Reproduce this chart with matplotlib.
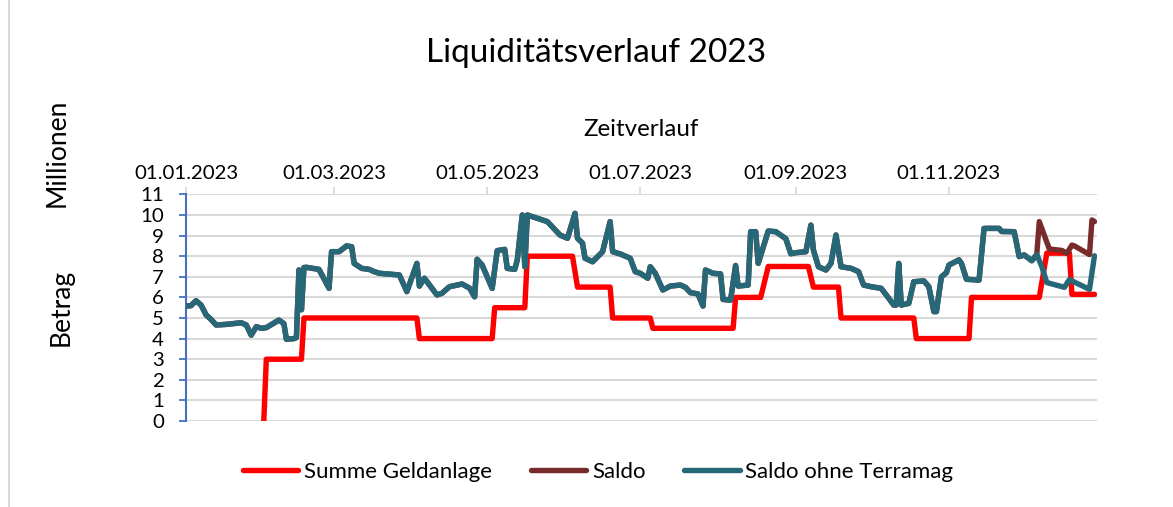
import matplotlib
matplotlib.use("Agg")
import matplotlib.pyplot as plt
import matplotlib.dates as mdates
import pandas as pd
from matplotlib.lines import Line2D

plt.rcParams['font.family'] = ['Lato', 'DejaVu Sans']

START = pd.Timestamp("2023-01-01")

# Summe Geldanlage (days since 01.01.2023, Mio)
geld_days = [31, 32, 46, 47, 92, 93, 122, 123, 135, 136, 154, 156, 169, 170, 185, 186,
             218, 219, 229, 232, 248, 250, 260, 261, 290, 291, 312, 313, 340, 343, 352, 353, 362]
geld_vals = [0, 3, 3, 5, 5, 4, 4, 5.5, 5.5, 8, 8, 6.5, 6.5, 5, 5, 4.5,
             4.5, 6, 6, 7.5, 7.5, 6.5, 6.5, 5, 5, 4, 4, 6, 6, 8.15, 8.15, 6.15, 6.15]

# Saldo ohne Terramag
ohne_days = [0, 2, 4, 6, 8, 10, 12, 16, 22, 24, 26, 28, 30, 32, 37, 39, 40, 43, 44, 45,
             46, 47, 48, 53, 57, 58, 61, 64, 66, 67, 70, 73, 75, 77, 85, 88, 92, 93, 95, 100,
             102, 105, 110, 113, 115, 116, 118, 122, 124, 127, 128, 131, 132, 134, 135, 136, 140, 144, 149, 152,
             155, 156, 158, 159, 162, 166, 169, 170, 173, 177, 179, 181, 184, 185, 187, 190, 193, 197, 199, 201,
             204, 206, 207, 210, 213, 214, 217, 219, 220, 224, 225, 227, 228, 232, 235, 239, 241, 243, 247, 249,
             250, 252, 255, 257, 259, 261, 265, 268, 270, 273, 277, 280, 282, 283, 284, 285, 288, 290, 294, 296,
             298, 299, 301, 303, 304, 308, 309, 311, 316, 318, 324, 325, 330, 332, 334, 337, 339, 341, 343, 350,
             352, 360, 362]
ohne_vals = [5.58, 5.6, 5.84, 5.63, 5.15, 4.93, 4.66, 4.69, 4.77, 4.66, 4.17, 4.58, 4.5, 4.53, 4.9, 4.73, 3.97, 4.0, 4.05, 7.33,
             5.4, 7.45, 7.46, 7.36, 6.44, 8.22, 8.22, 8.5, 8.46, 7.65, 7.41, 7.36, 7.25, 7.17, 7.09, 6.28, 7.65, 6.55, 6.93, 6.12,
             6.2, 6.52, 6.65, 6.45, 6.03, 7.85, 7.57, 6.44, 8.27, 8.33, 7.41, 7.36, 7.82, 10.0, 7.49, 10.0, 9.84, 9.68, 9.03, 8.87,
             10.08, 8.87, 8.63, 7.9, 7.73, 8.22, 9.68, 8.22, 8.11, 7.9, 7.25, 7.17, 6.93, 7.49, 7.17, 6.36, 6.55, 6.6, 6.49, 6.23,
             6.17, 5.58, 7.33, 7.17, 7.14, 5.9, 5.87, 7.55, 6.55, 6.6, 9.19, 9.19, 7.65, 9.22, 9.19, 8.85, 8.12, 8.17, 8.22, 9.51,
             8.3, 7.49, 7.33, 7.65, 9.03, 7.49, 7.41, 7.25, 6.6, 6.52, 6.44, 5.96, 5.63, 5.63, 7.65, 5.63, 5.71, 6.76, 6.8, 6.52,
             5.31, 5.31, 7.0, 7.2, 7.57, 7.82, 7.65, 6.88, 6.84, 9.35, 9.35, 9.2, 9.19, 7.98, 8.06, 7.78, 8.08, 7.5, 6.72, 6.49,
             6.86, 6.39, 8.02]

# Saldo: identical to "ohne Terramag" up to day 339, then these values
saldo_tail_days = [340, 344, 349, 351, 353, 354, 360, 361, 362]
saldo_tail_vals = [9.68, 8.35, 8.28, 8.14, 8.54, 8.5, 8.08, 9.76, 9.68]

tick_dates = ["2023-01-01", "2023-03-01", "2023-05-01", "2023-07-01", "2023-09-01", "2023-11-01"]

def to_dates(days):
    return START + pd.to_timedelta(days, unit="D")

n_shared = sum(1 for d in ohne_days if d <= 339)
saldo_days = ohne_days[:n_shared] + saldo_tail_days
saldo_vals = ohne_vals[:n_shared] + saldo_tail_vals

RED = "#FF0000"
BROWN = "#772B2B"
TEAL = "#276878"
GRID = "#D9D9D9"
BLUE = "#4472C4"

fig = plt.figure(figsize=(11.73, 5.07), dpi=100)
W, H = 1173, 507
ax = fig.add_axes([186 / W, 1 - 421 / H, (1097 - 186) / W, (421 - 194.4) / H])

lw = 3.9
ax.plot(to_dates(geld_days), geld_vals, color=RED, lw=lw, solid_joinstyle="round",
        solid_capstyle="round", label="Summe Geldanlage", zorder=3)
ax.plot(to_dates(saldo_days), saldo_vals, color=BROWN, lw=lw, solid_joinstyle="round",
        solid_capstyle="round", label="Saldo", zorder=4)
ax.plot(to_dates(ohne_days), ohne_vals, color=TEAL, lw=lw, solid_joinstyle="round",
        solid_capstyle="round", label="Saldo ohne Terramag", zorder=5)

ax.set_xlim(START, START + pd.Timedelta(days=363))
ax.set_ylim(0, 11)
ax.set_yticks(range(0, 12))
ax.set_xticks(pd.to_datetime(tick_dates))
ax.xaxis.set_major_formatter(mdates.DateFormatter("%d.%m.%Y"))
ax.xaxis.tick_top()

ax.grid(axis="y", color=GRID, lw=1.5)
ax.grid(axis="x", visible=False)
ax.set_axisbelow(True)
for s in ["top", "right", "bottom"]:
    ax.spines[s].set_visible(False)
ax.spines["left"].set_color(BLUE)
ax.spines["left"].set_linewidth(1.5)

ax.tick_params(axis="y", direction="out", length=5, width=1.3, color=BLUE, pad=11,
               labelsize=14.7, labelcolor="black")
ax.tick_params(axis="x", direction="out", length=5, width=1.3, color=GRID, pad=4,
               labelsize=14.7, labelcolor="black", top=True, bottom=False)

fig.text(596 / W, 1 - 53 / H, "Liquiditätsverlauf 2023", ha="center", va="center", fontsize=24)
fig.text(641 / W, 1 - 130 / H, "Zeitverlauf", ha="center", va="center", fontsize=17.4)
fig.text(57 / W, 1 - 153 / H, "Millionen", ha="center", va="center", rotation=90, fontsize=19)
fig.text(61 / W, 1 - 307 / H, "Betrag", ha="center", va="center", rotation=90, fontsize=19)

handles = [Line2D([], [], color=RED, lw=lw, solid_capstyle="round"),
           Line2D([], [], color=BROWN, lw=lw, solid_capstyle="round"),
           Line2D([], [], color=TEAL, lw=lw, solid_capstyle="round")]
fig.legend(handles, ["Summe Geldanlage", "Saldo", "Saldo ohne Terramag"], loc="center",
           bbox_to_anchor=(598 / W, 1 - 472 / H), ncol=3, frameon=False, fontsize=16,
           handlelength=2.5, handletextpad=0.25, columnspacing=1.75)

fig.add_artist(Line2D([9 / W, 9 / W], [0, 1], color=GRID, lw=1.5, transform=fig.transFigure))

fig.savefig("out.png", dpi=100)
